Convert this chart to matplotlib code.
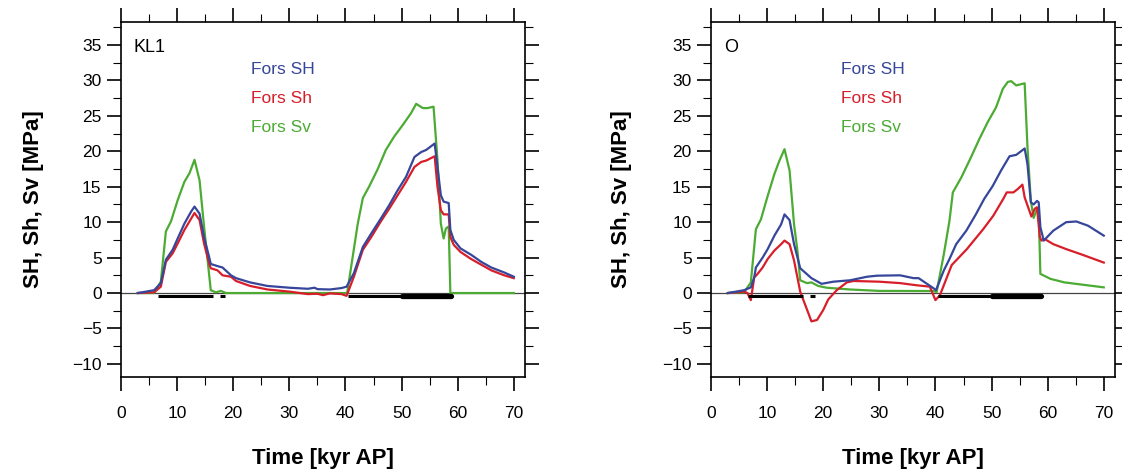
import matplotlib
matplotlib.use("Agg")
import matplotlib.pyplot as plt
from matplotlib.ticker import MultipleLocator

plt.rcParams['font.family'] = ['Liberation Sans', 'DejaVu Sans']

# ---------------- data: panel KL1 ----------------
kl1_sv_t = [3, 5.9, 7.1, 8.0, 8.9, 10.1, 11.3, 12.2, 13.1, 14.0, 14.8, 16.0, 16.9, 17.8, 18.7,
            40.3, 42.2, 43.1, 44.2, 45.7, 47.2, 48.7, 50.2, 51.7, 52.6, 53.8, 54.6, 55.7, 56.4,
            57.0, 57.5, 57.9, 58.4, 58.7, 70.0]
kl1_sv = [0, 0, 1.6, 8.7, 10.1, 13.1, 15.7, 16.9, 18.8, 15.9, 9.4, 0.4, 0.1, 0.3, 0,
          0, 9.8, 13.4, 15.0, 17.4, 20.2, 22.1, 23.7, 25.4, 26.7, 26.1, 26.1, 26.3, 18.8,
          9.8, 7.7, 9.1, 9.4, 0, 0]

kl1_SH_t = [3, 5.9, 7.1, 8.0, 9.2, 10.1, 11.3, 12.5, 13.1, 14.0, 14.8, 15.7, 16.0, 17.2, 18.1,
            19.6, 20.5, 23.0, 26.1, 30.0, 33.3, 34.5, 35.0, 37.2, 39.3, 40.2, 41.5, 43.1, 44.6,
            46.3, 47.8, 49.3, 50.8, 52.3, 53.5, 54.4, 55.9, 56.4, 57.0, 57.5, 58.4, 58.7, 59.3,
            60.5, 62.4, 64.2, 66.0, 68.3, 70.0]
kl1_SH = [0, 0.4, 1.4, 4.7, 6.1, 7.7, 9.8, 11.5, 12.2, 11.2, 7.9, 5.1, 4.1, 3.8, 3.6,
          2.5, 2.1, 1.5, 1.0, 0.75, 0.6, 0.75, 0.55, 0.5, 0.7, 0.9, 2.8, 6.5, 8.4,
          10.5, 12.4, 14.5, 16.4, 19.2, 19.9, 20.2, 21.1, 17.8, 13.8, 12.9, 12.7, 8.9, 7.5,
          6.3, 5.4, 4.4, 3.6, 2.9, 2.3]

kl1_Sh_t = [3, 5.9, 7.1, 8.0, 9.2, 10.1, 11.3, 12.5, 13.1, 14.0, 14.8, 15.7, 16.0, 17.2, 18.1,
            19.6, 20.5, 23.0, 26.1, 30.0, 33.3, 35.0, 36.0, 37.2, 39.3, 40.2, 41.5, 43.1, 44.6,
            46.3, 47.8, 49.3, 50.8, 52.3, 53.5, 54.4, 55.9, 56.4, 57.0, 57.5, 58.4, 58.7, 59.3,
            60.5, 62.4, 64.2, 66.0, 68.3, 70.0]
kl1_Sh = [0, 0.1, 0.9, 4.4, 5.6, 7.0, 8.9, 10.5, 11.3, 10.3, 7.0, 4.2, 3.5, 3.2, 2.5,
          2.3, 1.7, 1.0, 0.5, 0.2, -0.15, -0.1, -0.3, -0.05, -0.15, -0.4, 2.3, 6.1, 7.9,
          10.1, 11.9, 13.8, 15.7, 17.8, 18.5, 18.7, 19.3, 15.0, 11.7, 11.1, 11.1, 7.9, 6.8,
          5.8, 4.8, 4.0, 3.2, 2.5, 2.1]

# ---------------- data: panel O ----------------
o_sv_t = [3, 5.9, 7.1, 8.0, 8.9, 10.1, 11.3, 12.2, 13.1, 14.0, 14.8, 15.4, 15.9, 17.1, 17.9,
          19.1, 20.6, 24.8, 30.0, 39.7, 40.2, 41.5, 42.5, 43.1, 44.6, 46.3, 47.8, 49.3, 50.8,
          52.0, 52.9, 53.5, 54.4, 55.9, 56.4, 57.0, 57.5, 58.1, 58.4, 58.7, 60.5, 63.0, 66.0, 70.0]
o_sv = [0, 0.1, 1.5, 9.0, 10.4, 13.7, 16.8, 18.7, 20.3, 17.3, 9.7, 6.0, 1.8, 1.4, 1.5,
        1.0, 0.75, 0.5, 0.3, 0.28, 0.1, 5.5, 10.2, 14.2, 16.3, 19.1, 21.7, 24.1, 26.2,
        28.8, 29.8, 29.9, 29.3, 29.6, 20.6, 13.0, 10.6, 11.9, 11.6, 2.7, 2.0, 1.5, 1.2, 0.8]

o_SH_t = [3, 5.9, 7.1, 7.7, 8.0, 9.2, 10.1, 11.3, 12.5, 13.1, 14.0, 14.8, 15.9, 17.9, 19.7,
          21.8, 24.8, 27.8, 29.6, 33.7, 36.1, 37.0, 39.7, 40.1, 41.5, 42.5, 43.7, 45.5, 47.2,
          48.7, 50.2, 51.7, 53.2, 54.4, 55.9, 56.4, 57.0, 57.5, 58.1, 58.4, 58.7, 59.3, 61.0,
          63.3, 65.1, 67.2, 70.0]
o_SH = [0, 0.4, 0.8, 2.2, 3.6, 5.0, 6.2, 8.1, 9.7, 11.1, 10.3, 6.9, 3.5, 2.1, 1.3,
        1.6, 1.8, 2.3, 2.45, 2.5, 2.1, 2.1, 0.65, 0.4, 3.2, 4.8, 6.9, 8.8, 11.1,
        13.3, 15.1, 17.3, 19.3, 19.5, 20.4, 18.2, 12.8, 12.5, 13.0, 12.8, 9.3, 7.4, 8.8,
        10.0, 10.1, 9.5, 8.1]

o_Sh_t = [3, 5.9, 6.5, 7.1, 7.7, 8.3, 9.2, 10.1, 11.3, 12.5, 13.1, 14.0, 14.8, 15.4, 15.9,
          17.9, 18.9, 20.0, 20.9, 22.4, 24.2, 25.4, 30.0, 33.7, 36.6, 39.0, 40.0, 40.8, 42.9,
          45.6, 48.5, 50.3, 52.1, 52.7, 53.9, 54.7, 55.5, 55.9, 57.1, 57.7, 58.1, 58.6, 58.9,
          59.5, 61.0, 63.3, 66.2, 70.0]
o_Sh = [0, 0.2, 0, -1.0, 2.2, 2.7, 3.6, 4.8, 6.0, 6.9, 7.4, 6.9, 4.6, 2.2, 0.2,
        -4.0, -3.8, -2.4, -0.9, 0.4, 1.5, 1.7, 1.6, 1.4, 1.1, 0.9, -1.0, -0.3, 3.95,
        6.2, 9.0, 10.9, 13.3, 14.2, 14.2, 14.7, 15.3, 13.5, 10.8, 11.9, 12.1, 7.9, 7.4,
        7.6, 6.9, 6.2, 5.4, 4.3]

# intervals drawn as black bars just below zero (same in both panels)
thin_bars = [(6.6, 16.4), (17.6, 18.5), (40.5, 58.9)]
thick_bars = [(50.0, 58.8)]

panel_names = ["KL1", "O"]
series_labels = ["Fors SH", "Fors Sh", "Fors Sv"]
colors = ["#36469a", "#d81e2a", "#4bab33"]

panels = [
    (kl1_SH_t, kl1_SH, kl1_Sh_t, kl1_Sh, kl1_sv_t, kl1_sv),
    (o_SH_t, o_SH, o_Sh_t, o_Sh, o_sv_t, o_sv),
]

fig = plt.figure(figsize=(11.22, 4.72), dpi=100)
lefts = [121 / 1122, 711 / 1122]
for i, (name, pdata) in enumerate(zip(panel_names, panels)):
    ax = fig.add_axes([lefts[i], 95 / 472, 404 / 1122, 355 / 472])
    ax.axhline(0, color="#444444", lw=0.9, zorder=1)
    tSH, SH, tSh, Sh, tSv, Sv = pdata
    ax.plot(tSv, Sv, color=colors[2], lw=1.6, zorder=3)
    ax.plot(tSh, Sh, color=colors[1], lw=1.6, zorder=4)
    ax.plot(tSH, SH, color=colors[0], lw=1.6, zorder=5)
    for a, b in thin_bars:
        ax.plot([a, b], [-0.42, -0.42], color="black", lw=2.2, solid_capstyle="butt", zorder=6)
    for a, b in thick_bars:
        ax.plot([a, b], [-0.42, -0.42], color="black", lw=3.8, solid_capstyle="round", zorder=6)

    ax.set_xlim(0, 72)
    ax.set_ylim(-11.85, 38.25)
    ax.xaxis.set_major_locator(MultipleLocator(10))
    ax.xaxis.set_minor_locator(MultipleLocator(5))
    ax.yaxis.set_major_locator(MultipleLocator(5))
    ax.yaxis.set_minor_locator(MultipleLocator(2.5))
    ax.tick_params(which="both", direction="out", top=True, right=True, color="black")
    ax.tick_params(which="major", length=10, width=1.2, labelsize=12.5, pad=11)
    ax.tick_params(which="minor", length=5.5, width=0.8)
    ax.tick_params(axis="y", which="major", pad=4)
    for sp in ax.spines.values():
        sp.set_linewidth(1.2)

    ax.text(2.3, 34.7, name, fontsize=13, va="center", ha="left")
    for lab, col, yy in zip(series_labels, colors, [31.5, 27.4, 23.4]):
        ax.text(23.1, yy, lab, color=col, fontsize=12.5, va="center", ha="left")

    ax.set_xlabel("Time [kyr AP]", fontsize=16, fontweight="bold")
    ax.xaxis.set_label_coords(0.5, -0.2)
    ax.set_ylabel("SH, Sh, Sv [MPa]", fontsize=16, fontweight="bold")
    ax.yaxis.set_label_coords(-0.19 if i == 0 else -0.195, 0.5)

fig.savefig("out.png", dpi=100)
